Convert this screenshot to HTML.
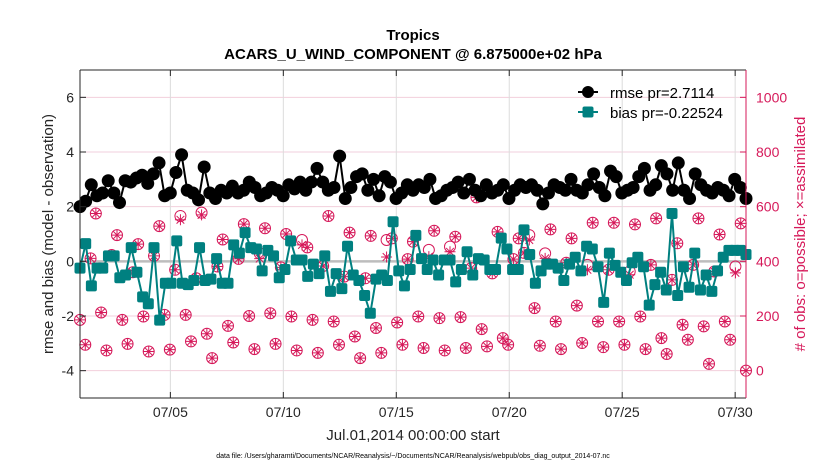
<!DOCTYPE html>
<html><head><meta charset="utf-8"><style>
body{margin:0;background:#fff;font-family:"Liberation Sans",sans-serif}
svg text{font-family:"Liberation Sans",sans-serif}
</style></head><body>
<svg id="chart" width="830" height="470" viewBox="0 0 830 470" xmlns="http://www.w3.org/2000/svg">
<rect width="830" height="470" fill="#fff"/>
<g id="grid"></g><g id="marks"></g><g id="axes"></g>
</svg>
<script>
const xTickDays=[4,9,14,19,24,29];
const xTickLabels=["07/05","07/10","07/15","07/20","07/25","07/30"];
const yTicks=[-4,-2,0,2,4,6];
const yRightTicks=[0,200,400,600,800,1000];
const rmse=[2.0,2.2,2.8,2.4,2.5,2.95,2.5,2.15,2.95,2.9,3.05,3.15,2.85,3.2,3.6,2.4,2.5,3.25,3.9,2.6,2.5,2.25,3.45,2.5,2.3,2.6,2.5,2.75,2.5,2.6,2.9,2.7,2.4,2.5,2.7,2.6,2.4,2.8,2.65,2.9,
2.6,2.9,3.4,2.9,2.6,2.7,3.85,2.3,2.7,3.1,3.2,2.6,3.0,2.4,3.1,2.9,2.3,2.5,2.8,2.6,2.8,2.7,3.0,2.3,2.4,2.6,2.7,2.9,2.5,3.0,2.6,2.4,2.8,2.5,2.6,2.8,2.3,2.6,2.8,
2.7,2.8,2.6,2.1,2.5,2.8,2.7,2.6,3.0,2.6,2.5,2.8,3.2,2.7,2.4,3.3,3.1,2.5,2.6,2.7,3.1,3.4,2.6,2.8,3.5,3.2,2.6,3.6,2.6,2.3,3.2,2.8,2.6,2.5,2.7,2.6,2.4,3.0,2.7,2.3];
const bias=[-0.25,0.65,-0.9,-0.25,-0.25,0.2,0.2,-0.6,-0.5,0.5,-0.4,-1.3,-1.55,0.5,-2.15,-0.8,-0.8,0.75,-0.8,-0.85,-0.7,0.5,-0.7,-0.65,0.1,-0.8,-0.8,0.6,0.3,1.05,0.5,0.45,-0.35,0.4,0.2,-0.6,-0.3,0.75,0.05,0.05,
-0.55,-0.1,-0.45,0.2,-1.1,-0.45,-1.0,0.55,-0.5,-0.7,-1.25,-1.9,-0.65,-0.5,-0.7,1.45,-0.35,-0.9,-0.3,0.95,0.1,-0.3,0.05,-0.5,0.05,0.05,-0.75,-0.3,0.35,-0.5,0.1,0.05,-0.3,-0.3,0.85,0.45,-0.3,-0.3,1.15,
0.25,-0.8,-0.35,-0.1,-0.1,-0.25,-0.7,-0.1,0.15,-0.35,0.55,0.45,-0.2,-1.5,0.3,-0.15,-0.4,-0.7,-0.05,0.15,-0.2,-1.6,-0.85,-0.4,-1.05,1.75,-1.25,-0.2,-0.95,0.3,-1.05,-0.5,-1.1,-0.35,0.15,0.4,0.4,0.4,0.25];
const obsPossible=[186,95,411,575,213,74,423,496,186,98,360,463,198,70,420,529,204,77,369,566,204,107,338,578,135,46,381,480,164,103,409,536,200,79,429,521,210,98,378,500,
198,74,478,451,186,65,383,566,180,95,344,505,125,46,338,493,156,65,478,484,176,95,408,472,198,83,442,512,192,74,454,490,196,83,375,634,152,89,356,508,119,95,408,484,
431,496,229,91,429,517,180,79,395,484,238,101,387,541,180,86,369,541,180,95,363,535,198,79,387,557,119,61,332,466,168,113,387,557,162,25,363,498,180,113,381,539,0];
const obsAssim=[186,95,411,575,213,74,423,496,186,98,360,463,198,70,420,529,204,77,369,552,204,107,338,570,135,46,381,480,164,103,409,536,200,79,410,521,210,98,378,500,
198,74,460,451,186,65,383,566,180,95,344,505,125,46,338,493,156,65,416,484,176,95,408,472,198,83,417,512,192,74,435,490,196,83,375,634,152,89,356,508,119,95,408,484,
431,478,229,91,411,517,180,79,395,484,238,101,369,541,180,86,369,541,180,95,351,535,198,79,387,557,119,61,332,466,168,113,387,557,162,25,363,498,180,113,358,539,0];

const NS="http://www.w3.org/2000/svg";
const L=80,R=746,T=70,B=398,XMAX=29.48,YMIN=-5,YMAX=7;
const xs=d=>L+(d/XMAX)*(R-L);
const ys=v=>B-(v-YMIN)/(YMAX-YMIN)*(B-T);
const yr=n=>ys(n/100-4);
const idxDay=(i,n)=>i*XMAX/(n-1);
function mk(tag,attrs,parent){const e=document.createElementNS(NS,tag);for(const k in attrs)e.setAttribute(k,attrs[k]);parent.appendChild(e);return e;}
const grid=document.getElementById('grid'),marks=document.getElementById('marks'),axes=document.getElementById('axes');
const RED="#d6195a";
mk('rect',{x:L,y:T,width:R-L,height:B-T,fill:'#fff'},grid);
yTicks.forEach(v=>{const g=mk('line',{x1:L,x2:R,y1:ys(v),y2:ys(v),stroke:'#f2cfdc','stroke-width':1},grid);

});
xTickDays.forEach(d=>{const g=mk('line',{x1:xs(d),x2:xs(d),y1:T,y2:B,stroke:'#dcdcdc','stroke-width':1},grid);

});
const zl=mk('line',{x1:L,x2:R,y1:ys(0),y2:ys(0),stroke:'#bdbdbd','stroke-width':2.5},grid);



// obs markers
function circ(d,n,parent){const cx=xs(d),cy=yr(n);const c=mk('circle',{cx:cx,cy:cy,r:5.5,fill:'none',stroke:RED,'stroke-width':1},parent);

}
function star(d,n,parent){const cx=xs(d),cy=yr(n),s=5.5;const g=mk('path',{d:`M${cx-s} ${cy}H${cx+s}M${cx} ${cy-s}V${cy+s}M${cx-s*0.7} ${cy-s*0.7}L${cx+s*0.7} ${cy+s*0.7}M${cx-s*0.7} ${cy+s*0.7}L${cx+s*0.7} ${cy-s*0.7}`,stroke:RED,'stroke-width':1,fill:'none'},parent);

}
obsPossible.forEach((n,i)=>circ(idxDay(i,obsPossible.length),n,marks));
obsAssim.forEach((n,i)=>star(idxDay(i,obsAssim.length),n,marks));

// rmse
const rl=mk('polyline',{points:rmse.map((v,i)=>xs(idxDay(i,rmse.length))+','+ys(v)).join(' '),fill:'none',stroke:'#000','stroke-width':2},marks);


rmse.forEach((v,i)=>{const c=mk('circle',{cx:xs(idxDay(i,rmse.length)),cy:ys(v),r:6.5,fill:'#000'},marks);

});
// bias
const TEAL="#008080";
const bl=mk('polyline',{points:bias.map((v,i)=>xs(idxDay(i,bias.length))+','+ys(v)).join(' '),fill:'none',stroke:TEAL,'stroke-width':2},marks);


bias.forEach((v,i)=>{const x=xs(idxDay(i,bias.length)),y=ys(v);const r=mk('rect',{x:x-5.5,y:y-5.5,width:11,height:11,rx:2,fill:TEAL},marks);

});

// axes
mk('line',{x1:L,x2:L,y1:T,y2:B,stroke:'#262626','stroke-width':1},axes);
mk('line',{x1:L,x2:R,y1:B,y2:B,stroke:'#262626','stroke-width':1},axes);
mk('line',{x1:L,x2:R,y1:T,y2:T,stroke:'#262626','stroke-width':1},axes);
mk('line',{x1:R,x2:R,y1:T,y2:B,stroke:RED,'stroke-width':1},axes);
yTicks.forEach(v=>{mk('line',{x1:L,x2:L+6,y1:ys(v),y2:ys(v),stroke:'#262626'},axes);
const t=mk('text',{x:L-6,y:ys(v)+5,'text-anchor':'end','font-size':14,fill:'#262626'},axes);t.textContent=v;

});
yRightTicks.forEach(n=>{mk('line',{x1:R-6,x2:R,y1:yr(n),y2:yr(n),stroke:RED},axes);
const t=mk('text',{x:R+10,y:yr(n)+5,'font-size':14,fill:RED},axes);t.textContent=n;

});
xTickDays.forEach((d,i)=>{mk('line',{x1:xs(d),x2:xs(d),y1:B,y2:B-6,stroke:'#262626'},axes);mk('line',{x1:xs(d),x2:xs(d),y1:T,y2:T+6,stroke:'#262626'},axes);
const t=mk('text',{x:xs(d),y:B+19,'text-anchor':'middle','font-size':14,fill:'#262626'},axes);t.textContent=xTickLabels[i];

});
</script>
<svg style="position:absolute;left:0;top:0" width="830" height="470">
<text x="413" y="40" text-anchor="middle" font-size="15" font-weight="bold" fill="#000">Tropics</text>
<text x="413" y="59" text-anchor="middle" font-size="15" font-weight="bold" fill="#000">ACARS_U_WIND_COMPONENT @ 6.875000e+02 hPa</text>
<text x="413" y="440" text-anchor="middle" font-size="15" fill="#262626">Jul.01,2014 00:00:00 start</text>
<text x="413" y="458" text-anchor="middle" font-size="7" fill="#000">data file: /Users/gharamti/Documents/NCAR/Reanalysis/~/Documents/NCAR/Reanalysis/webpub/obs_diag_output_2014-07.nc</text>
<text transform="translate(53,234) rotate(-90)" text-anchor="middle" font-size="15" fill="#262626">rmse and bias (model - observation)</text>
<text transform="translate(805,234) rotate(-90)" text-anchor="middle" font-size="15" fill="#d6195a"># of obs: o=possible; ×=assimilated</text>
<g>
<g><line x1="578" x2="598" y1="92" y2="92" stroke="#000" stroke-width="2"/><circle cx="588" cy="92" r="6" fill="#000"/><text x="610" y="98" font-size="15" fill="#000">rmse pr=2.7114</text></g>
<g><line x1="578" x2="598" y1="112" y2="112" stroke="#008080" stroke-width="2"/><rect x="582.5" y="106.5" width="11" height="11" rx="2" fill="#008080"/><text x="610" y="118" font-size="15" fill="#000">bias pr=-0.22524</text></g>
</g>
</svg>
</body></html>
